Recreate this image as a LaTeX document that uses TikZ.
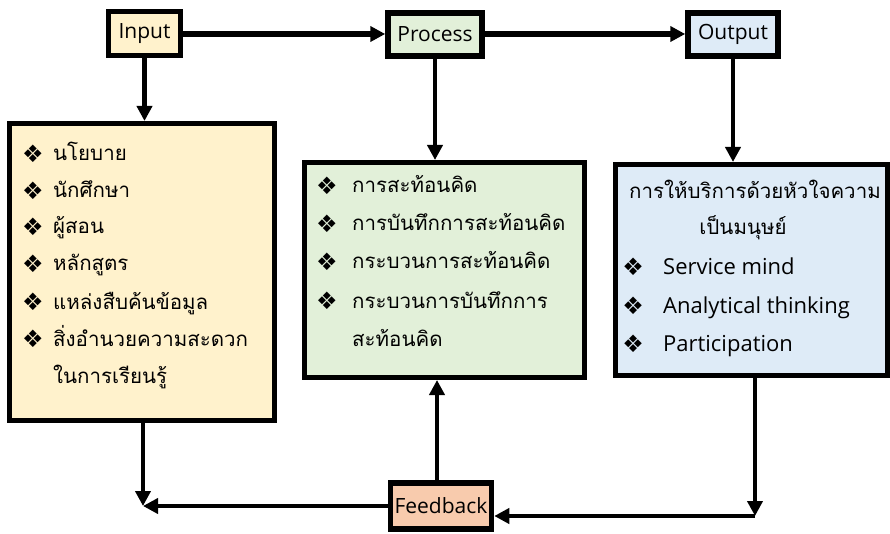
\documentclass[tikz,border=0pt]{standalone}
\usepackage{fontspec}
\setmainfont{Open Sans}
\newfontfamily\thaifont[Script=Thai]{Loma}
\newfontfamily\symfont{DejaVu Sans}
\usetikzlibrary{arrows.meta}
\definecolor{cin}{HTML}{FFF2CC}
\definecolor{cpr}{HTML}{E2F0D9}
\definecolor{cout}{HTML}{DEEBF7}
\definecolor{cfb}{HTML}{F8CBAD}
\begin{document}
\begin{tikzpicture}[x=1pt,y=-1pt,
  box/.style={draw=black, line width=5.5pt, inner sep=0pt, font=\fontsize{21}{24}\selectfont},
  arr/.style={line width=4.5pt, -{Triangle[length=15pt,width=15pt]}},
  th/.style={anchor=base west, inner sep=0pt, font=\thaifont\fontsize{20.5}{24}\selectfont},
  thc/.style={anchor=base, inner sep=0pt, font=\thaifont\fontsize{20.5}{24}\selectfont},
  en/.style={anchor=base west, inner sep=0pt, font=\fontsize{22}{26}\selectfont},
  bul/.style={anchor=center, inner sep=0pt, font=\symfont\fontsize{24}{26}\selectfont}]
\useasboundingbox (0,0) rectangle (890,534);
% top boxes
\node[box, fill=cin, minimum width=72pt, minimum height=44pt] (in) at (144.5,33.5) {Input};
\node[box, fill=cpr, minimum width=94pt, minimum height=43pt] (proc) at (435,34.5) {Process};
\node[box, fill=cout, minimum width=90pt, minimum height=43pt] (out) at (733,34.5) {Output};
\node[box, fill=cfb, minimum width=101pt, minimum height=46pt] (fb) at (441,506) {Feedback};
% big boxes
\node[box, line width=5pt, fill=cin, minimum width=265pt, minimum height=297pt] (left) at (142,272) {};
\node[box, line width=5pt, fill=cpr, minimum width=280pt, minimum height=215pt] (mid) at (444.5,270) {};
\node[box, line width=5pt, fill=cout, minimum width=272pt, minimum height=211pt] (right) at (751,270) {};
% left box text
\node[bul] (lb1) at (33,154) {❖};
\node[bul] (lb2) at (33,191) {❖};
\node[bul] (lb3) at (33,227) {❖};
\node[bul] (lb4) at (33,264) {❖};
\node[bul] (lb5) at (33,302) {❖};
\node[bul] (lb6) at (33,339) {❖};
\node[th] (lt1) at (53,161) {นโยบาย};
\node[th] (lt2) at (53,198) {นักศึกษา};
\node[th] (lt3) at (53,234) {ผู้สอน};
\node[th] (lt4) at (53,271) {หลักสูตร};
\node[th] (lt5) at (53,309) {แหล่งสืบค้นข้อมูล};
\node[th] (lt6) at (53,346) {สิ่งอำนวยความสะดวก};
\node[th] (lt7) at (53,383) {ในการเรียนรู้};
% middle box text
\node[bul] (mb1) at (327,186) {❖};
\node[bul] (mb2) at (327,224) {❖};
\node[bul] (mb3) at (327,262) {❖};
\node[bul] (mb4) at (327,301) {❖};
\node[th] (mt1) at (352,193) {การสะท้อนคิด};
\node[th] (mt2) at (352,231) {การบันทึกการสะท้อนคิด};
\node[th] (mt3) at (352,269) {กระบวนการสะท้อนคิด};
\node[th] (mt4) at (352,308) {กระบวนการบันทึกการ};
\node[th] (mt5) at (352,346) {สะท้อนคิด};
% right box text
\node[thc] (rt1) at (755,199) {การให้บริการด้วยหัวใจความ};
\node[thc] (rt2) at (743,235) {เป็นมนุษย์};
\node[bul] (rb1) at (633,267) {❖};
\node[bul] (rb2) at (633,306) {❖};
\node[bul] (rb3) at (633,344) {❖};
\node[en] (re1) at (663,274) {Service mind};
\node[en] (re2) at (663,313) {Analytical thinking};
\node[en] (re3) at (663,351) {Participation};
% connectors
\coordinate (cl) at (143,506);
\coordinate (cr) at (755,516);
\draw[arr, line width=5.5pt] (in.east |- 0,34) -- (proc.west |- 0,34);
\draw[arr, line width=5.5pt] (proc.east |- 0,34) -- (out.west |- 0,34);
\draw[arr] (in.south) -- (in.south |- left.north);
\draw[arr] (proc.south) -- (proc.south |- mid.north);
\draw[arr] (out.south) -- (out.south |- right.north);
\draw[arr] (left.south -| cl) -- (cl);
\draw[arr] (fb.west) -- (cl);
\draw[arr] (right.south -| cr) -- (cr);
\draw[arr] (cr) -- (fb.east |- cr);
\draw[arr] (fb.north -| 437,0) -- (mid.south -| 437,0);
\end{tikzpicture}
\end{document}
